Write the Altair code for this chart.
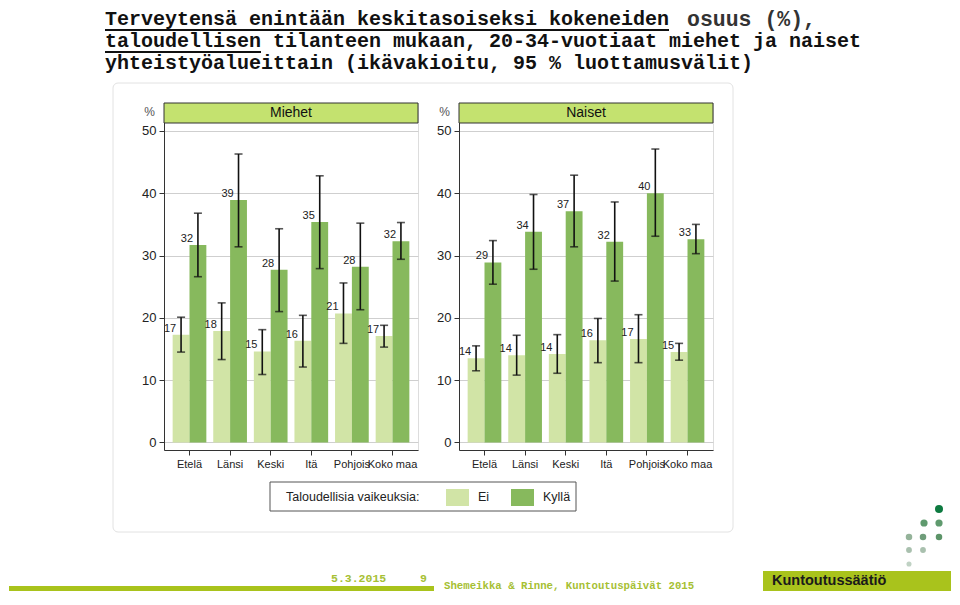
import altair as alt
import pandas as pd

# ---------------- data ----------------
regions = ["Etelä", "Länsi", "Keski", "Itä", "Pohjois", "Koko maa"]
groups = ["Ei", "Kyllä"]
panels = ["Miehet", "Naiset"]

men_ei = [17.3, 17.9, 14.6, 16.3, 20.7, 17.1]
men_ei_lo = [14.5, 13.3, 10.9, 12.1, 15.9, 15.3]
men_ei_hi = [20.1, 22.4, 18.1, 20.4, 25.6, 18.8]
men_ei_lab = [17, 18, 15, 16, 21, 17]

men_ky = [31.7, 38.9, 27.7, 35.4, 28.2, 32.3]
men_ky_lo = [26.6, 31.4, 21.0, 27.9, 21.3, 29.4]
men_ky_hi = [36.8, 46.3, 34.3, 42.8, 35.2, 35.3]
men_ky_lab = [32, 39, 28, 35, 28, 32]

wom_ei = [13.5, 14.0, 14.2, 16.4, 16.6, 14.5]
wom_ei_lo = [11.5, 10.8, 11.1, 12.8, 12.8, 13.2]
wom_ei_hi = [15.5, 17.2, 17.3, 19.9, 20.5, 15.9]
wom_ei_lab = [14, 14, 14, 16, 17, 15]

wom_ky = [28.9, 33.8, 37.1, 32.2, 40.0, 32.6]
wom_ky_lo = [25.4, 27.8, 31.4, 25.9, 33.1, 30.3]
wom_ky_hi = [32.4, 39.8, 42.9, 38.6, 47.1, 35.0]
wom_ky_lab = [29, 34, 37, 32, 40, 33]

y_ticks = [0, 10, 20, 30, 40, 50]

title_l1a = "Terveytensä enintään keskitasoiseksi kokeneiden"
title_l1b = "osuus (%),"
title_l2a = "taloudellisen"
title_l2b = "tilanteen mukaan, 20-34-vuotiaat miehet ja naiset"
title_l3 = "yhteistyöalueittain (ikävakioitu, 95 % luottamusvälit)"
legend_title = "Taloudellisia vaikeuksia:"
footer_date = "5.3.2015"
footer_page = "9"
footer_text = "Shemeikka & Rinne, Kuntoutuspäivät 2015"
footer_brand = "Kuntoutussäätiö"

rows = []
series = {
    ("Miehet", "Ei"): (men_ei, men_ei_lo, men_ei_hi, men_ei_lab),
    ("Miehet", "Kyllä"): (men_ky, men_ky_lo, men_ky_hi, men_ky_lab),
    ("Naiset", "Ei"): (wom_ei, wom_ei_lo, wom_ei_hi, wom_ei_lab),
    ("Naiset", "Kyllä"): (wom_ky, wom_ky_lo, wom_ky_hi, wom_ky_lab),
}
for (sex, grp), (v, lo, hi, lab) in series.items():
    for i, r in enumerate(regions):
        rows.append(dict(sex=sex, region=r, group=grp, value=v[i], lo=lo[i], hi=hi[i], label=lab[i]))
df = pd.DataFrame(rows)
one = pd.DataFrame({"k": [0]})

# ---------------- style ----------------
LIGHT = "#d1e4a6"
DARK = "#87b95d"
HEAD = "#c4e26f"
GREEN_TXT = "#a6c033"
GREEN_BAR = "#a9c31c"
FONT = "Liberation Sans"
MONO = "Liberation Mono"
W, H = 254, 347
YDOM = [-1.22, 54.49]


def deco_rect(x, x2, y, y2, **kw):
    return alt.Chart(one).mark_rect(**kw).encode(
        x=alt.value(x), x2=alt.value(x2), y=alt.value(y), y2=alt.value(y2))


def deco_text(txt, x, y, **kw):
    return alt.Chart(one).mark_text(text=txt, **kw).encode(x=alt.value(x), y=alt.value(y))


def deco_hline(x, x2, y, **kw):
    return alt.Chart(one).mark_rule(**kw).encode(x=alt.value(x), x2=alt.value(x2), y=alt.value(y))


def deco_dot(x, y, size, color):
    return alt.Chart(one).mark_circle(size=size, color=color, opacity=1).encode(
        x=alt.value(x), y=alt.value(y))


def panel(name, before, after):
    d = df[df.sex == name]
    base = alt.Chart(d).encode(
        x=alt.X("region:N", sort=regions,
                scale=alt.Scale(paddingInner=0.17, paddingOuter=0.213),
                axis=alt.Axis(title=None, labelAngle=0, labelFontSize=11, labelColor="#222",
                              domainColor="#333", tickColor="#333", tickSize=5,
                              labelPadding=3, grid=False, labelFont=FONT)),
        xOffset=alt.XOffset("group:N", sort=groups,
                            scale=alt.Scale(paddingInner=0, paddingOuter=0)),
    )
    yscale = alt.Scale(domain=YDOM, nice=False, zero=False)
    bars = base.mark_bar().encode(
        y=alt.Y("value:Q", scale=yscale, title="%",
                axis=alt.Axis(values=y_ticks, grid=True, gridColor="#cfcfcf", gridWidth=1,
                              domainColor="#333", tickColor="#333", tickSize=5,
                              labelFontSize=13, labelColor="#222", labelPadding=3,
                              labelFont=FONT, title="%", titleAngle=0, titleX=-15, titleY=8,
                              titleAlign="center", titleBaseline="middle",
                              titleFontWeight="normal", titleFontSize=12,
                              titleColor="#555", titleFont=FONT)),
        y2=alt.datum(0),
        color=alt.Color("group:N", scale=alt.Scale(domain=groups, range=[LIGHT, DARK]), legend=None),
    )
    err = base.mark_rule(color="#111", strokeWidth=1.6).encode(
        y=alt.Y("lo:Q", scale=yscale, title="%"), y2="hi:Q")
    cap_lo = base.mark_tick(color="#111", thickness=1.6, size=8).encode(
        y=alt.Y("lo:Q", scale=yscale, title="%"))
    cap_hi = base.mark_tick(color="#111", thickness=1.6, size=8).encode(
        y=alt.Y("hi:Q", scale=yscale, title="%"))
    labels = base.mark_text(dx=-11, dy=-6, fontSize=11, baseline="middle",
                            color="#222", font=FONT).encode(
        y=alt.Y("value:Q", scale=yscale, title="%"), text="label:Q")
    head_r = deco_rect(0, W, 0, 20, fill=HEAD, stroke="#333", strokeWidth=1)
    head_t = deco_text(name, W / 2, 10, fontSize=14, font=FONT, color="#111",
                       align="center", baseline="middle")
    layers = before + [bars, err, cap_lo, cap_hi, labels, head_r, head_t] + after
    return alt.layer(*layers).properties(width=W, height=H)


# decorations drawn in the left panel's coordinate system (origin = left plot area)
before = [
    deco_rect(-155, 787, -94, 488, fill="white", fillOpacity=0),
    deco_rect(-51, 569, -20, 429, fillOpacity=0, stroke="#e2e2e2", strokeWidth=1, cornerRadius=5),
]
after = []
# title
T1, T2, T3 = -84, -62, -40
tkw = dict(font=MONO, align="left", baseline="middle")
after += [
    deco_text(title_l1a, -59, T1, fontSize=20, fontWeight="bold", color="#111", **tkw),
    deco_text(title_l1b, 523, T1 + 0.5, fontSize=21.5, fontWeight="bold", color="#333", **tkw),
    deco_text(title_l2a, -59, T2, fontSize=20, fontWeight="bold", color="#111", **tkw),
    deco_text(title_l2b, -59 + 14 * 12, T2, fontSize=20, fontWeight="bold", color="#111", **tkw),
    deco_text(title_l3, -59, T3, fontSize=20, fontWeight="bold", color="#111", **tkw),
    deco_hline(-59, -59 + 47 * 12, T1 + 11, color="#111", strokeWidth=2),
    deco_hline(-59, -59 + 13 * 12, T2 + 11, color="#111", strokeWidth=2),
]
# legend
after += [
    deco_rect(106, 412, 379, 408, fill="white", stroke="#555", strokeWidth=1),
    deco_text(legend_title, 122, 394, fontSize=12.5, font=FONT, color="#222",
              align="left", baseline="middle"),
    deco_rect(282, 305, 386, 403, fill=LIGHT),
    deco_text(groups[0], 314, 394, fontSize=12.5, font=FONT, color="#222",
              align="left", baseline="middle"),
    deco_rect(347, 370, 386, 403, fill=DARK),
    deco_text(groups[1], 379, 394, fontSize=12.5, font=FONT, color="#222",
              align="left", baseline="middle"),
]
# footer
after += [
    deco_rect(-155, 270, 483, 488, fill=GREEN_BAR),
    deco_text(footer_date, 167, 476, fontSize=11.5, font=MONO, fontWeight="bold",
              color=GREEN_TXT, align="left", baseline="middle"),
    deco_text(footer_page, 256, 476, fontSize=11.5, font=MONO, fontWeight="bold",
              color=GREEN_TXT, align="left", baseline="middle"),
    deco_text(footer_text, 280, 483, fontSize=10.7, font=MONO, fontWeight="bold",
              color=GREEN_TXT, align="left", baseline="middle"),
    deco_rect(599, 787, 468, 488, fill=GREEN_BAR),
    deco_text(footer_brand, 608, 478, fontSize=14.5, font=FONT, fontWeight="bold",
              color="#1a1a1a", align="left", baseline="middle"),
]
# logo dots
logo = [
    (775, 406, 64, "#0d7a40"),
    (760, 420, 52, "#5f9a6e"), (775, 420, 52, "#5f9a6e"),
    (745, 434, 42, "#94b39a"), (759, 434, 42, "#6f9d7a"), (775, 434, 42, "#5c9468"),
    (745, 447, 34, "#a9c0ae"), (759, 447, 34, "#a9c0ae"),
    (745, 461, 26, "#c0d2c4"),
]
for (lx, ly, ls, lc) in logo:
    after.append(deco_dot(lx, ly, ls, lc))

left = panel("Miehet", before, after)
right = panel("Naiset", [], [])

chart = alt.hconcat(left, right, spacing=41, bounds="flush").properties(padding=0).configure_view(
    stroke=None).configure(font=FONT)

chart.save("out.html", embed_options={"renderer": "svg", "actions": False})
